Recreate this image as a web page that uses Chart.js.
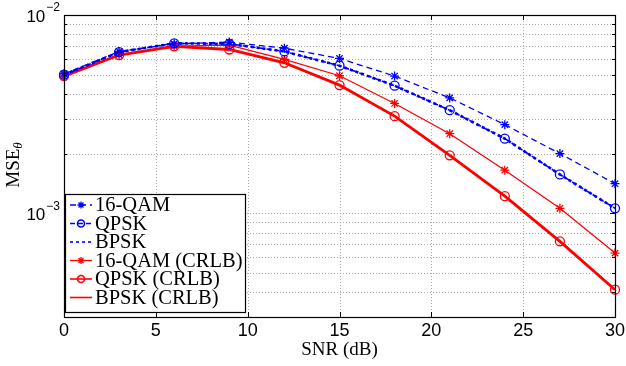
<!DOCTYPE html>
<html>
<head>
<meta charset="utf-8">
<script src="https://cdn.jsdelivr.net/npm/chart.js@4.4.0/dist/chart.umd.min.js"></script>
<style>
  html, body { margin: 0; padding: 0; background: #fff; }
  #wrap { width: 626px; height: 366px; }
</style>
</head>
<body>
<div id="wrap"><canvas id="mseChart" width="626" height="366"></canvas></div>
<script>
// SNR points (dB)
const snr = [0, 3, 6, 9, 12, 15, 18, 21, 24, 27, 30];

// simulated MSE
const qam16 = [5.05e-3, 6.55e-3, 7.15e-3, 7.3e-3, 6.8e-3, 6.04e-3, 4.92e-3, 3.82e-3, 2.8e-3, 2.0e-3, 1.41e-3];
const qpsk = [5.0e-3, 6.5e-3, 7.2e-3, 7.15e-3, 6.55e-3, 5.55e-3, 4.4e-3, 3.31e-3, 2.38e-3, 1.57e-3, 1.06e-3];
const bpsk = [5.0e-3, 6.5e-3, 7.2e-3, 7.15e-3, 6.55e-3, 5.55e-3, 4.4e-3, 3.31e-3, 2.38e-3, 1.57e-3, 1.06e-3];

// CRLB
const qam16Crlb = [4.92e-3, 6.3e-3, 6.97e-3, 7.05e-3, 5.97e-3, 4.94e-3, 3.58e-3, 2.52e-3, 1.65e-3, 1.06e-3, 6.3e-4];
const qpskCrlb = [4.92e-3, 6.28e-3, 6.95e-3, 6.7e-3, 5.74e-3, 4.43e-3, 3.09e-3, 1.96e-3, 1.22e-3, 7.22e-4, 4.12e-4];
const bpskCrlb = [4.92e-3, 6.28e-3, 6.95e-3, 6.7e-3, 5.74e-3, 4.43e-3, 3.09e-3, 1.96e-3, 1.22e-3, 7.22e-4, 4.12e-4];

const seriesNames = ['16-QAM', 'QPSK', 'BPSK', '16-QAM (CRLB)', 'QPSK (CRLB)', 'BPSK (CRLB)'];

// axes
const xTicks = [0, 5, 10, 15, 20, 25, 30];
const yMajor = [1e-3, 1e-2];
const yMajorExp = ['\u22123', '\u22122'];
const yMinor = [3e-4, 4e-4, 5e-4, 6e-4, 7e-4, 8e-4, 9e-4, 2e-3, 3e-3, 4e-3, 5e-3, 6e-3, 7e-3, 8e-3, 9e-3];
const xTitle = 'SNR (dB)';
const yTitle = 'MSE';
const yTitleSub = '\u03b8';

const BLUE = '#0000ff';
const RED = '#ff0000';
const SANS = '"Liberation Sans", Arial, sans-serif';
const SERIF = '"Liberation Serif", "Times New Roman", serif';

function pts(vals) {
    return snr.map((s, i) => ({ x: s, y: vals[i] }));
}

function mk(label, vals, color, dash, width, style) {
    return {
        label: label,
        data: pts(vals),
        borderColor: color,
        backgroundColor: 'rgba(0,0,0,0)',
        borderWidth: width,
        borderDash: dash,
        pointStyle: style || false,
        pointRadius: style ? 4.5 : 0,
        pointBorderWidth: 1.3,
        pointBorderColor: color,
        pointBackgroundColor: 'rgba(0,0,0,0)',
        tension: 0,
        clip: false
    };
}

function line(ctx, x1, y1, x2, y2) {
    ctx.beginPath();
    ctx.moveTo(x1, y1);
    ctx.lineTo(x2, y2);
    ctx.stroke();
}

const axesPlugin = {
    id: 'matlabAxes',
    beforeDatasetsDraw(chart) {
        const { ctx, chartArea: a, scales: { x, y } } = chart;
        ctx.save();
        ctx.strokeStyle = '#aaaaaa';
        ctx.lineWidth = 1;
        ctx.setLineDash([1, 2]);
        xTicks.forEach(v => {
            const px = Math.round(x.getPixelForValue(v)) + 0.5;
            line(ctx, px, a.top, px, a.bottom);
        });
        yMajor.concat(yMinor).forEach(v => {
            const py = Math.round(y.getPixelForValue(v)) + 0.5;
            line(ctx, a.left, py, a.right, py);
        });
        ctx.restore();
    },
    afterDraw(chart) {
        const { ctx, chartArea: a, scales: { x, y } } = chart;
        ctx.save();
        ctx.setLineDash([]);
        ctx.strokeStyle = '#000';
        ctx.lineWidth = 1;

        // ticks, pointing inward
        xTicks.forEach(v => {
            const px = Math.round(x.getPixelForValue(v)) + 0.5;
            line(ctx, px, a.bottom, px, a.bottom - 5);
            line(ctx, px, a.top, px, a.top + 5);
        });
        yMajor.forEach(v => {
            const py = Math.round(y.getPixelForValue(v)) + 0.5;
            line(ctx, a.left, py, a.left + 5, py);
            line(ctx, a.right, py, a.right - 5, py);
        });
        yMinor.forEach(v => {
            const py = Math.round(y.getPixelForValue(v)) + 0.5;
            line(ctx, a.left, py, a.left + 3, py);
            line(ctx, a.right, py, a.right - 3, py);
        });

        // box
        ctx.lineWidth = 1.2;
        ctx.strokeRect(Math.round(a.left) + 0.5, Math.round(a.top) + 0.5,
            Math.round(a.right - a.left), Math.round(a.bottom - a.top));

        // tick labels
        ctx.fillStyle = '#000';
        ctx.textBaseline = 'middle';
        ctx.textAlign = 'center';
        ctx.font = '18px ' + SANS;
        xTicks.forEach(v => {
            ctx.fillText(String(v), x.getPixelForValue(v), a.bottom + 14);
        });
        yMajor.forEach((v, i) => {
            const py = y.getPixelForValue(v);
            ctx.font = '12px ' + SANS;
            const w2 = ctx.measureText(yMajorExp[i]).width;
            ctx.textAlign = 'left';
            ctx.fillText(yMajorExp[i], 60 - w2, py - 7);
            ctx.font = '17px ' + SANS;
            ctx.textAlign = 'right';
            ctx.fillText('10', 59 - w2, py + 2);
        });

        // axis titles
        ctx.textAlign = 'center';
        ctx.font = '19px ' + SERIF;
        ctx.fillText(xTitle, (a.left + a.right) / 2, 350);

        ctx.save();
        ctx.translate(14, 165);
        ctx.rotate(-Math.PI / 2);
        ctx.font = '19px ' + SERIF;
        const wT = ctx.measureText(yTitle).width;
        ctx.font = 'italic 13px ' + SERIF;
        const wS = ctx.measureText(yTitleSub).width;
        const x0 = -(wT + wS) / 2;
        ctx.textAlign = 'left';
        ctx.font = '19px ' + SERIF;
        ctx.fillText(yTitle, x0, 0);
        ctx.font = 'italic 13px ' + SERIF;
        ctx.fillText(yTitleSub, x0 + wT, 5);
        ctx.restore();

        // legend
        const bx = 65, by = 194, bw = 180, bh = 118;
        ctx.fillStyle = '#fff';
        ctx.fillRect(bx, by, bw, bh);
        ctx.lineWidth = 1.2;
        ctx.strokeStyle = '#000';
        ctx.strokeRect(bx + 0.5, by + 0.5, bw, bh);

        chart.data.datasets.forEach((ds, i) => {
            const ry = 205 + i * 18.5;
            ctx.strokeStyle = ds.borderColor;
            ctx.lineWidth = Math.min(ds.borderWidth, 1.6);
            ctx.setLineDash(ds.borderDash || []);
            line(ctx, 70, ry, 92, ry);
            ctx.setLineDash([]);
            if (ds.pointStyle) {
                ctx.fillStyle = 'rgba(0,0,0,0)';
                Chart.helpers.drawPoint(ctx, {
                    pointStyle: ds.pointStyle, radius: 3.5, rotation: 0, borderWidth: 1.3
                }, 81, ry);
            }
            ctx.fillStyle = '#000';
            ctx.font = '20.5px ' + SERIF;
            ctx.textAlign = 'left';
            ctx.textBaseline = 'middle';
            ctx.fillText(seriesNames[i], 95, ry + 1);
        });

        ctx.restore();
    }
};

new Chart(document.getElementById('mseChart'), {
    type: 'line',
    data: {
        datasets: [
            mk(seriesNames[0], qam16, BLUE, [6, 4], 1.3, 'star'),
            mk(seriesNames[1], qpsk, BLUE, [5, 3], 1.6, 'circle'),
            mk(seriesNames[2], bpsk, BLUE, [3, 3], 2.6, false),
            mk(seriesNames[3], qam16Crlb, RED, [], 1.3, 'star'),
            mk(seriesNames[4], qpskCrlb, RED, [], 1.6, 'circle'),
            mk(seriesNames[5], bpskCrlb, RED, [], 2.8, false)
        ]
    },
    options: {
        responsive: false,
        devicePixelRatio: 1,
        animation: false,
        layout: { padding: { top: 15, right: 11, left: 0, bottom: 0 } },
        plugins: { legend: { display: false }, tooltip: { enabled: false } },
        scales: {
            x: {
                type: 'linear', min: 0, max: 30,
                ticks: { display: false, stepSize: 5 },
                grid: { display: false },
                border: { display: false },
                afterFit: s => { s.height = 49; }
            },
            y: {
                type: 'logarithmic', min: 3e-4, max: 1e-2,
                ticks: { display: false },
                grid: { display: false },
                border: { display: false },
                afterFit: s => { s.width = 64; }
            }
        }
    },
    plugins: [axesPlugin]
});
</script>
</body>
</html>
